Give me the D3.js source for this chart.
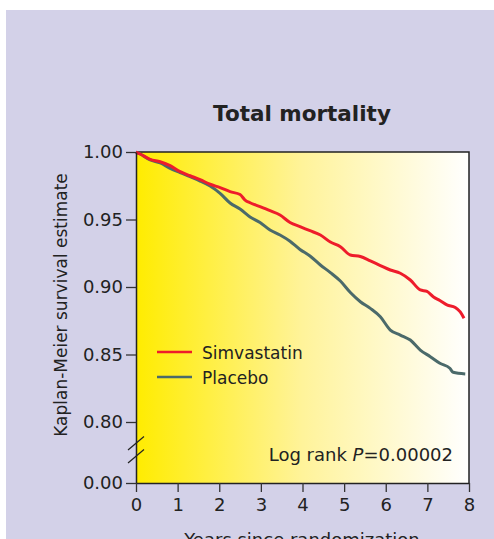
<!DOCTYPE html>
<html>
<head>
<meta charset="utf-8">
<script src="https://cdn.jsdelivr.net/npm/d3@7"></script>
<style>
  body { margin: 0; background: #fff; }
  svg { display: block; }
  text { font-family: "DejaVu Sans", sans-serif; fill: #222; }
</style>
</head>
<body>
<div id="c"></div>
<script>
"use strict";

// years since randomization / survival estimate
const simvaYears = [0, 0.10, 0.34, 0.58, 0.82, 1.06, 1.30, 1.54, 1.78, 2.02, 2.26, 2.50, 2.62, 2.74, 2.98,
    3.22, 3.46, 3.70, 3.94, 4.18, 4.43, 4.67, 4.91, 5.15, 5.39, 5.63, 5.87, 6.11, 6.35, 6.59, 6.83,
    6.99, 7.14, 7.30, 7.47, 7.67, 7.79, 7.88]
const simvaSurv = [1.000, 0.9985, 0.9946, 0.9928, 0.9899, 0.9854, 0.9824, 0.9795, 0.9761, 0.9736, 0.9706,
    0.9685, 0.9644, 0.9624, 0.9595, 0.9565, 0.9533, 0.9478, 0.9447, 0.9417, 0.9385, 0.9333, 0.9299,
    0.9237, 0.9226, 0.9193, 0.9159, 0.9126, 0.9102, 0.9052, 0.8978, 0.8967, 0.8928, 0.8900, 0.8867,
    0.8848, 0.8815, 0.8768]

const placeboYears = [0, 0.10, 0.34, 0.58, 0.82, 1.06, 1.30, 1.54, 1.78, 2.02, 2.26, 2.50, 2.74, 2.98,
    3.22, 3.46, 3.70, 3.94, 4.18, 4.43, 4.67, 4.91, 5.15, 5.39, 5.63, 5.87, 6.11, 6.35, 6.59, 6.83,
    7.07, 7.30, 7.54, 7.62, 7.91]
const placeboSurv = [1.000, 0.9985, 0.9941, 0.9919, 0.9879, 0.9847, 0.9817, 0.9785, 0.9748, 0.9694,
    0.9622, 0.9578, 0.9519, 0.9478, 0.9422, 0.9385, 0.9339, 0.9278, 0.9230, 0.9163, 0.9107, 0.9044,
    0.8959, 0.8891, 0.8842, 0.8780, 0.8681, 0.8644, 0.8607, 0.8533, 0.8484, 0.8435, 0.8398, 0.8368,
    0.8356]

const xTicks = [0, 1, 2, 3, 4, 5, 6, 7, 8]
const yTicks = [0, 0.80, 0.85, 0.90, 0.95, 1.00]
const seriesNames = ["Simvastatin", "Placebo"]
const seriesColors = ["#ee1c2b", "#4b6a6a"]

const W = 494, H = 539
const plotL = 136, plotR = 469, plotT = 152, plotB = 483

let svg = d3.select('#c').append('svg')
    .attr('width', W).attr('height', H)

// lavender panel with a thin white margin top/left
svg.append('rect').attr('x', 6).attr('y', 10)
    .attr('width', W - 6).attr('height', H - 10)
    .attr('fill', '#d3d1e8')

let grad = svg.append('defs').append('linearGradient')
    .attr('id', 'bg').attr('x1', 0).attr('x2', 1).attr('y1', 0).attr('y2', 0)
grad.append('stop').attr('offset', '0%').attr('stop-color', '#ffec00')
grad.append('stop').attr('offset', '50%').attr('stop-color', '#fff39a')
grad.append('stop').attr('offset', '100%').attr('stop-color', '#ffffff')

let xScale = d3.scaleLinear().domain([0, 8]).range([plotL, plotR])
// broken axis: 0 -> 0.80 squeezed into a short stretch
let yScale = d3.scaleLinear().domain([0, 0.80, 1.00]).range([plotB, 422, plotT])

svg.append('rect')
    .attr('x', plotL).attr('y', plotT)
    .attr('width', plotR - plotL).attr('height', plotB - plotT)
    .attr('fill', 'url(#bg)')

// frame top and right
svg.append('path')
    .attr('d', `M${plotL},${plotT}H${plotR}V${plotB}`)
    .attr('fill', 'none').attr('stroke', '#222').attr('stroke-width', 1.5)

// title
svg.append('text')
    .attr('x', 302).attr('y', 121)
    .attr('text-anchor', 'middle')
    .style('font-size', '21.5px').style('font-weight', 'bold')
    .text('Total mortality')

// curves
function drawCurve(years, surv, color) {
    let pts = years.map((t, i) => [t, surv[i]])
    svg.append('path')
        .datum(pts)
        .attr('fill', 'none')
        .attr('stroke', color)
        .attr('stroke-width', 3)
        .attr('stroke-linejoin', 'round')
        .attr('d', d3.line()
            .x(d => xScale(d[0]))
            .y(d => yScale(d[1]))
            .curve(d3.curveMonotoneX))
}
drawCurve(placeboYears, placeboSurv, seriesColors[1])
drawCurve(simvaYears, simvaSurv, seriesColors[0])

// axes
let yAxis = svg.append('g')
    .attr('transform', `translate(${plotL},0)`)
    .call(d3.axisLeft(yScale)
        .tickValues(yTicks).tickSize(10).tickSizeOuter(0).tickPadding(3)
        .tickFormat(d3.format('.2f')))
let xAxis = svg.append('g')
    .attr('transform', `translate(0,${plotB})`)
    .call(d3.axisBottom(xScale)
        .tickValues(xTicks).tickSize(9).tickSizeOuter(0).tickPadding(6)
        .tickFormat(d3.format('d')))

;[yAxis, xAxis].forEach(a => {
    a.selectAll('.domain').attr('stroke', '#222').attr('stroke-width', 1.5)
    a.selectAll('.tick line').attr('stroke', '#333').attr('stroke-width', 1.3)
    a.selectAll('.tick text')
        .style('font-family', '"DejaVu Sans", sans-serif')
        .style('font-size', '18px').attr('fill', '#222')
})

// axis break marks
;[450, 463].forEach(y0 => {
    svg.append('line')
        .attr('x1', plotL - 8).attr('y1', y0)
        .attr('x2', plotL + 8).attr('y2', y0 - 13.5)
        .attr('stroke', '#222').attr('stroke-width', 1.2)
})

// axis titles
svg.append('text')
    .attr('transform', 'translate(67,305) rotate(-90)')
    .attr('text-anchor', 'middle')
    .style('font-size', '17px')
    .text('Kaplan-Meier survival estimate')

svg.append('text')
    .attr('x', 302).attr('y', 546)
    .attr('text-anchor', 'middle')
    .style('font-size', '18px')
    .text('Years since randomization')

// legend
let legend = svg.append('g').attr('transform', 'translate(157,352)')
seriesNames.forEach((name, i) => {
    let g = legend.append('g').attr('transform', `translate(0,${i * 25})`)
    g.append('line')
        .attr('x1', 0).attr('x2', 35).attr('y1', 0).attr('y2', 0)
        .attr('stroke', seriesColors[i]).attr('stroke-width', 2.5)
    g.append('text')
        .attr('x', 45).attr('y', 7)
        .style('font-size', '17px')
        .text(name)
})

// log rank annotation
let lr = svg.append('text')
    .attr('x', 453).attr('y', 461)
    .attr('text-anchor', 'end')
    .style('font-size', '18px')
lr.append('tspan').text('Log rank ')
lr.append('tspan').style('font-style', 'italic').text('P')
lr.append('tspan').text('=0.00002')
</script>
</body>
</html>
